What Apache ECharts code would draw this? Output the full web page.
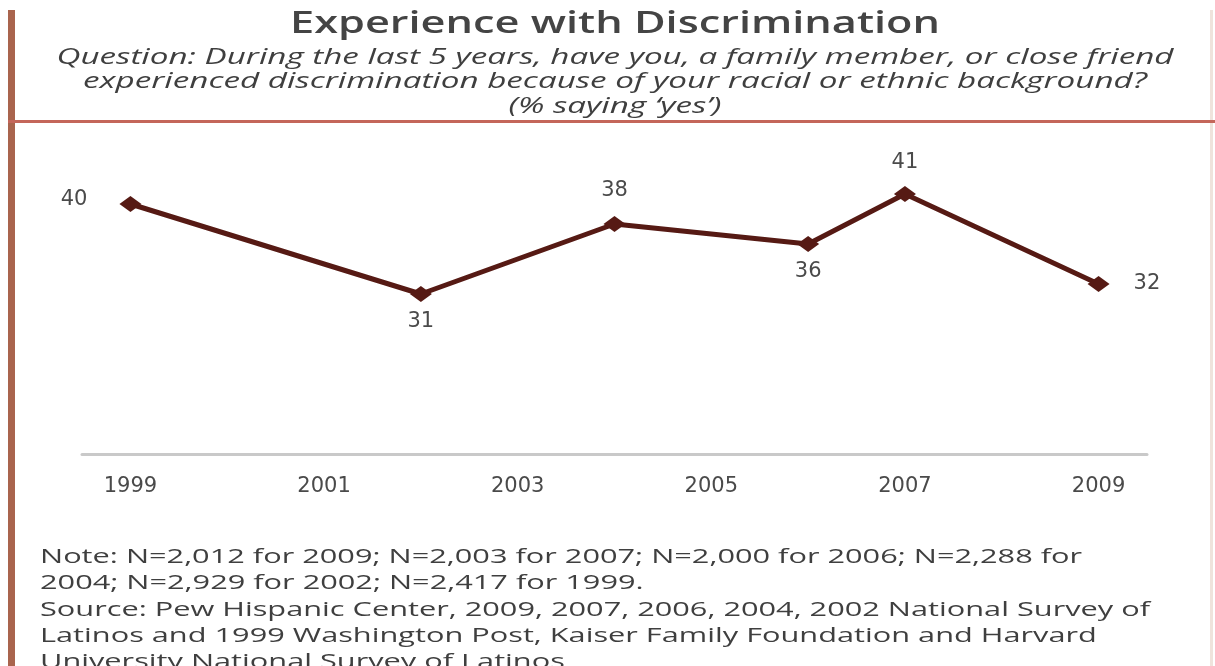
<!DOCTYPE html>
<html>
<head>
<meta charset="utf-8">
<script src="https://cdn.jsdelivr.net/npm/echarts@6/dist/echarts.min.js"></script>
<style>
html,body{margin:0;padding:0;background:#ffffff;}
#chart{width:1215px;height:666px;}
</style>
</head>
<body>
<div id="chart"></div>
<script>
// ---- data ----
const years = [1999, 2002, 2004, 2006, 2007, 2009];
const values = [40, 31, 38, 36, 41, 32];
const tickYears = [1999, 2001, 2003, 2005, 2007, 2009];
const titleText = 'Experience with Discrimination';
const subtitleLines = [
  'Question: During the last 5 years, have you, a family member, or close friend',
  'experienced discrimination because of your racial or ethnic background?',
  '(% saying \u2018yes\u2019)'
];
const noteLines = [
  'Note: N=2,012 for 2009; N=2,003 for 2007; N=2,000 for 2006; N=2,288 for',
  '2004; N=2,929 for 2002; N=2,417 for 1999.'
];
const sourceLines = [
  'Source: Pew Hispanic Center, 2009, 2007, 2006, 2004, 2002 National Survey of',
  'Latinos and 1999 Washington Post, Kaiser Family Foundation and Harvard',
  'University National Survey of Latinos'
];

// ---- layout helpers ----
const cv = document.createElement('canvas').getContext('2d');
function measure(text, font) { cv.font = font; return cv.measureText(text).width; }

const titleFont = '600 30px "Open Sans"';
const subFont = 'italic 21px "Open Sans"';
const noteFont = 'normal 20px "Open Sans"';
const titleScale = 650 / measure(titleText, titleFont);
const subScale = 1117 / measure(subtitleLines[0], subFont);
const noteScale = 1110 / measure(sourceLines[0], noteFont);

const labelPos = ['left', 'bottom', 'top', 'bottom', 'top', 'right'];
const labelDist = [32, 9, 15, 9, 13, 24];
const labelOff = [[0, -4], [0, 0], [0, 0], [0, 0], [0, 0], [0, 0]];

const seriesData = years.map((y, i) => ({
  value: [y, values[i]],
  label: { position: labelPos[i], distance: labelDist[i], offset: labelOff[i] }
}));

const graphics = [];
graphics.push({ type: 'rect', left: 8, top: 10, shape: { width: 7, height: 660 }, style: { fill: '#a9644d' }, z: 10 });
graphics.push({ type: 'rect', left: 1210, top: 10, shape: { width: 3, height: 660 }, style: { fill: '#efe3dc' }, z: 10 });
graphics.push({ type: 'rect', left: 8, top: 120, shape: { width: 1207, height: 3 }, style: { fill: '#c4665a' }, z: 10 });
graphics.push({ type: 'text', x: 615, y: 24, scaleX: titleScale,
  style: { text: titleText, font: titleFont, fill: '#444444', textAlign: 'center', textVerticalAlign: 'middle' } });
subtitleLines.forEach((t, i) => {
  graphics.push({ type: 'text', x: 615, y: 58 + i * 24.5, scaleX: subScale,
    style: { text: t, font: subFont, fill: '#3f3f3f', textAlign: 'center', textVerticalAlign: 'middle' } });
});
noteLines.forEach((t, i) => {
  graphics.push({ type: 'text', x: 40, y: 557 + i * 26, scaleX: noteScale,
    style: { text: t, font: noteFont, fill: '#3f3f3f', textAlign: 'left', textVerticalAlign: 'middle' } });
});
sourceLines.forEach((t, i) => {
  graphics.push({ type: 'text', x: 40, y: 610 + i * 26, scaleX: noteScale,
    style: { text: t, font: noteFont, fill: '#3f3f3f', textAlign: 'left', textVerticalAlign: 'middle' } });
});

const chart = echarts.init(document.getElementById('chart'), null, { renderer: 'canvas' });
chart.setOption({
  backgroundColor: '#ffffff',
  animation: false,
  graphic: graphics,
  grid: { left: 82, right: 68, top: 154, bottom: 212, containLabel: false },
  xAxis: {
    type: 'value', min: 1998.5, max: 2009.5,
    axisLine: { show: true, lineStyle: { color: '#c9c9c9', width: 3 } },
    axisTick: { show: false },
    splitLine: { show: false },
    axisLabel: {
      customValues: tickYears,
      formatter: v => String(v),
      color: '#4a4a4a', fontSize: 21, fontFamily: 'DejaVu Sans', margin: 22
    }
  },
  yAxis: {
    type: 'value', min: 15, max: 45,
    show: false,
    splitLine: { show: false }
  },
  series: [{
    type: 'line',
    data: seriesData,
    color: '#561a14',
    lineStyle: { color: '#561a14', width: 5 },
    itemStyle: { color: '#561a14' },
    symbol: 'diamond',
    symbolSize: [22, 16],
    label: {
      show: true,
      formatter: p => String(p.value[1]),
      color: '#4a4a4a', fontSize: 21, fontFamily: 'DejaVu Sans'
    }
  }]
});
</script>
</body>
</html>
